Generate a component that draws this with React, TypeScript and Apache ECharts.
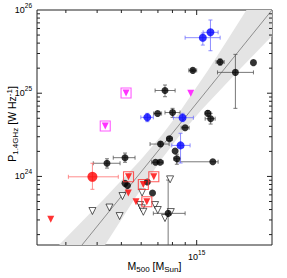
import React, { useEffect, useRef } from 'react';
import * as echarts from 'echarts';

// Units: M500 in 1e14 Msun, P1.4GHz in 1e24 W/Hz
const X_MIN = 2.3;
const X_MAX = 20;
const Y_MIN = 0.15;
const Y_MAX = 100;

// [M, P, Mlo, Mhi, Plo, Phi]
const blackHalos = [
  [12.41, 23.7, 11.96, 12.88, 21.8, 25.8],
  [16.86, 23.3, 16.86, 16.86, 23.3, 23.3],
  [9.65, 18.8, 9.3, 10.0, 18.2, 19.4],
  [14.28, 17.8, 12.11, 16.86, 6.58, 29.3],
  [7.47, 10.78, 6.82, 8.2, 9.08, 12.55],
  [6.98, 5.7, 6.73, 7.24, 5.7, 5.7],
  [8.01, 5.86, 7.47, 8.58, 5.13, 6.58],
  [11.08, 5.73, 10.8, 11.4, 5.3, 6.2],
  [11.37, 4.94, 10.81, 11.85, 4.26, 5.73],
  [8.99, 3.85, 8.67, 9.33, 3.85, 3.85],
  [7.78, 2.84, 7.6, 8.0, 2.7, 3.0],
  [7.17, 2.45, 6.51, 7.76, 2.3, 2.6],
  [8.2, 2.02, 8.2, 8.2, 2.02, 2.02],
  [8.33, 1.63, 8.1, 8.6, 1.4, 1.85],
  [6.85, 1.48, 6.6, 7.1, 1.48, 1.48],
  [7.14, 1.48, 6.95, 7.35, 1.48, 1.48],
  [11.6, 1.5, 8.33, 12.18, 1.5, 1.5],
  [5.17, 1.68, 4.64, 5.67, 1.48, 1.91],
  [4.38, 1.44, 3.86, 4.94, 1.26, 1.63],
  [6.35, 0.856, 6.35, 6.35, 0.856, 0.856],
  [5.17, 0.826, 5.17, 5.17, 0.826, 0.826],
  [5.29, 0.777, 5.29, 5.29, 0.777, 0.777],
  [6.66, 0.632, 6.66, 6.66, 0.632, 0.632],
  [7.69, 0.36, 6.71, 8.99, 0.1, 0.905],
];

const blueHalos = [
  [6.35, 5.13, 5.98, 6.71, 4.55, 5.73],
  [8.78, 5.08, 8.07, 9.7, 4.55, 5.73],
  [8.62, 2.36, 7.95, 9.41, 1.45, 3.3],
  [10.58, 46.5, 8.99, 12.41, 37.9, 52.9],
  [11.35, 53.9, 10.61, 12.18, 32.4, 75.8],
];

const redHalo = [[3.83, 0.99, 3.07, 4.86, 0.7, 1.44]];

const redLimitsBoxed = [
  [5.34, 0.99],
  [6.12, 0.799],
  [6.74, 0.99],
  [6.32, 0.497],
];
const redLimits = [
  [2.61, 0.305],
  [5.33, 0.632],
  [5.72, 0.497],
];
const magentaBoxed = [
  [5.22, 10.06],
  [4.31, 4.04],
];
const magentaLimits = [[9.47, 9.97]];

const openLimits = [
  [3.83, 0.384],
  [4.48, 0.423],
  [4.92, 0.334],
  [5.05, 0.581],
  [6.05, 0.64],
  [7.83, 0.923],
  [5.94, 0.453],
  [6.03, 0.414],
  [6.12, 0.376],
  [6.82, 0.453],
  [6.99, 0.395],
  [7.88, 0.373],
  [7.47, 0.316],
];

const fitLine = [
  [3.48, 0.15],
  [20, 100],
];
// confidence band edges (upper-left edge incl. top-right corner, lower-right edge)
const bandUpper = [
  [2.817, 0.15],
  [4.224, 0.52],
  [5.968, 1.575],
  [7.264, 3.146],
  [8.656, 6.284],
  [11.12, 19.0],
  [13.27, 43.6],
  [15.81, 100],
  [20, 100],
];
const bandLower = [
  [4.302, 0.15],
  [5.609, 0.52],
  [7.197, 1.575],
  [8.577, 3.146],
  [10.44, 6.284],
  [14.77, 19.0],
  [20, 48.7],
];

const xMinorTicks = [3, 4, 5, 6, 7, 8, 9];
const xMajorTicks = [10];
const yMinorTicks = [
  0.2, 0.3, 0.4, 0.5, 0.6, 0.7, 0.8, 0.9,
  2, 3, 4, 5, 6, 7, 8, 9,
  20, 30, 40, 50, 60, 70, 80, 90,
];
const yMajorTicks = [1, 10];

const FONT = '"Liberation Sans", Arial, Helvetica, sans-serif';

function isPow10(v: number) {
  const l = Math.log10(v);
  return Math.abs(l - Math.round(l)) < 1e-6;
}

function errorSeries(data: number[][], color: string) {
  return {
    type: 'custom',
    data,
    clip: true,
    silent: true,
    z: 3,
    renderItem: (params: any, api: any) => {
      const x = api.value(0);
      const y = api.value(1);
      const l = api.coord([api.value(2), y]);
      const r = api.coord([api.value(3), y]);
      const b = api.coord([x, api.value(4)]);
      const t = api.coord([x, api.value(5)]);
      const cap = 2;
      const st = { stroke: color, lineWidth: 0.8, fill: null };
      const children: any[] = [];
      if (Math.abs(r[0] - l[0]) > 1) {
        children.push({ type: 'line', shape: { x1: l[0], y1: l[1], x2: r[0], y2: r[1] }, style: st });
        children.push({ type: 'line', shape: { x1: l[0], y1: l[1] - cap, x2: l[0], y2: l[1] + cap }, style: st });
        children.push({ type: 'line', shape: { x1: r[0], y1: r[1] - cap, x2: r[0], y2: r[1] + cap }, style: st });
      }
      if (Math.abs(b[1] - t[1]) > 1) {
        children.push({ type: 'line', shape: { x1: b[0], y1: b[1], x2: t[0], y2: t[1] }, style: st });
        children.push({ type: 'line', shape: { x1: b[0] - cap, y1: b[1], x2: b[0] + cap, y2: b[1] }, style: st });
        children.push({ type: 'line', shape: { x1: t[0] - cap, y1: t[1], x2: t[0] + cap, y2: t[1] }, style: st });
      }
      return { type: 'group', children };
    },
  };
}

function xTickSeries(values: number[], len: number) {
  return {
    type: 'custom',
    data: values.map((v) => [v, Y_MIN]),
    silent: true,
    z: 10,
    renderItem: (params: any, api: any) => {
      const v = api.value(0);
      const pb = api.coord([v, Y_MIN]);
      const pt = api.coord([v, Y_MAX]);
      const st = { stroke: '#222', lineWidth: 1 };
      return {
        type: 'group',
        children: [
          { type: 'line', shape: { x1: pb[0], y1: pb[1], x2: pb[0], y2: pb[1] - len }, style: st },
          { type: 'line', shape: { x1: pt[0], y1: pt[1], x2: pt[0], y2: pt[1] + len }, style: st },
        ],
      };
    },
  };
}

function yTickSeries(values: number[], len: number) {
  return {
    type: 'custom',
    data: values.map((v) => [X_MIN, v]),
    silent: true,
    z: 10,
    renderItem: (params: any, api: any) => {
      const v = api.value(1);
      const pl = api.coord([X_MIN, v]);
      const pr = api.coord([X_MAX, v]);
      const st = { stroke: '#222', lineWidth: 1 };
      return {
        type: 'group',
        children: [
          { type: 'line', shape: { x1: pl[0], y1: pl[1], x2: pl[0] + len, y2: pl[1] }, style: st },
          { type: 'line', shape: { x1: pr[0], y1: pr[1], x2: pr[0] - len, y2: pr[1] }, style: st },
        ],
      };
    },
  };
}

const downTri = 'triangle';

export default function App() {
  const ref = useRef<HTMLDivElement>(null);
  useEffect(() => {
    document.body.style.margin = '0';
    if (!ref.current) return;
    const chart = echarts.init(ref.current, undefined, { renderer: 'svg' });
    const bandPoly = bandUpper.concat(bandLower.slice().reverse());
    const labelRich = {
      b: { fontSize: 9, lineHeight: 16, fontFamily: FONT, color: '#000' },
      s: { fontSize: 6.5, lineHeight: 7, verticalAlign: 'top', fontFamily: FONT, color: '#000' },
    };
    const nameRich = {
      m: { fontSize: 10.5, lineHeight: 14, fontFamily: FONT, color: '#000' },
      sub: { fontSize: 8, lineHeight: 8, verticalAlign: 'bottom', fontFamily: FONT, color: '#000' },
      sup: { fontSize: 8, lineHeight: 8, verticalAlign: 'top', fontFamily: FONT, color: '#000' },
    };
    const option: any = {
      animation: false,
      backgroundColor: '#fff',
      grid: {
        left: 37,
        top: 10,
        width: 235,
        height: 235,
        show: true,
        borderColor: '#222',
        borderWidth: 1,
        backgroundColor: 'transparent',
        containLabel: false,
        outerBoundsMode: 'none',
      },
      graphic: [
        {
          type: 'text',
          x: 12,
          y: 124,
          rotation: Math.PI / 2,
          style: {
            text: '{m|P}{sub|1.4GHz}{m| [W Hz}{sup|-1}{m|]}',
            rich: nameRich,
            align: 'center',
            verticalAlign: 'middle',
          },
        },
      ],
      xAxis: {
        type: 'log',
        logBase: 10,
        min: X_MIN,
        max: X_MAX,
        axisLine: { show: false },
        axisTick: { show: false },
        splitLine: { show: false },
        axisLabel: {
          margin: 4,
          formatter: (v: number) => (isPow10(v) ? `{b|10}{s|${Math.round(Math.log10(v)) + 14}}` : ''),
          rich: labelRich,
        },
        name: '{m|M}{sub|500}{m| [M}{sub|Sun}{m|]}',
        nameLocation: 'middle',
        nameGap: 14,
        nameMoveOverlap: false,
        nameTextStyle: { rich: nameRich },
      },
      yAxis: {
        type: 'log',
        logBase: 10,
        min: Y_MIN,
        max: Y_MAX,
        axisLine: { show: false },
        axisTick: { show: false },
        splitLine: { show: false },
        axisLabel: {
          margin: 5,
          formatter: (v: number) => (isPow10(v) ? `{b|10}{s|${Math.round(Math.log10(v)) + 24}}` : ''),
          rich: labelRich,
        },
      },
      series: [
        {
          type: 'custom',
          data: [bandPoly[0]],
          clip: true,
          silent: true,
          z: 1,
          renderItem: (params: any, api: any) => ({
            type: 'polygon',
            shape: { points: bandPoly.map((p) => api.coord(p)) },
            style: { fill: '#e4e4e4', stroke: null },
          }),
        },
        {
          type: 'line',
          data: fitLine,
          symbol: 'none',
          silent: true,
          z: 2,
          lineStyle: { color: '#777', width: 0.8 },
        },
        errorSeries(blackHalos, '#555'),
        errorSeries(blueHalos, '#7070ff'),
        errorSeries(redHalo, '#ff7070'),
        {
          type: 'scatter',
          data: openLimits,
          symbol: downTri,
          symbolRotate: 180,
          symbolSize: 7,
          z: 4,
          itemStyle: { color: '#fff', borderColor: '#000', borderWidth: 0.8 },
        },
        {
          type: 'scatter',
          data: blackHalos.map((d) => [d[0], d[1]]),
          symbol: 'circle',
          symbolSize: 7,
          z: 5,
          itemStyle: { color: '#000' },
        },
        {
          type: 'scatter',
          data: blueHalos.map((d) => [d[0], d[1]]),
          symbol: 'circle',
          symbolSize: 8,
          z: 5,
          itemStyle: { color: '#0000ff' },
        },
        {
          type: 'scatter',
          data: redHalo.map((d) => [d[0], d[1]]),
          symbol: 'circle',
          symbolSize: 10,
          z: 5,
          itemStyle: { color: '#ff0000' },
        },
        {
          type: 'scatter',
          data: redLimits.concat(redLimitsBoxed),
          symbol: downTri,
          symbolRotate: 180,
          symbolSize: 7,
          z: 5,
          itemStyle: { color: '#ff0000' },
        },
        {
          type: 'scatter',
          data: magentaLimits.concat(magentaBoxed),
          symbol: downTri,
          symbolRotate: 180,
          symbolSize: 7,
          z: 5,
          itemStyle: { color: '#ff00ff' },
        },
        {
          type: 'scatter',
          data: redLimitsBoxed,
          symbol: 'rect',
          symbolSize: 10,
          z: 6,
          itemStyle: { color: 'rgba(0,0,0,0)', borderColor: '#ff3030', borderWidth: 1.1 },
        },
        {
          type: 'scatter',
          data: magentaBoxed,
          symbol: 'rect',
          symbolSize: 10,
          z: 6,
          itemStyle: { color: 'rgba(0,0,0,0)', borderColor: '#ff30ff', borderWidth: 1.1 },
        },
        xTickSeries(xMinorTicks, 3),
        xTickSeries(xMajorTicks, 5),
        yTickSeries(yMinorTicks, 3),
        yTickSeries(yMajorTicks, 5),
      ],
    };
    chart.setOption(option);
    return () => chart.dispose();
  }, []);
  return <div ref={ref} style={{ width: 287, height: 278 }} />;
}
